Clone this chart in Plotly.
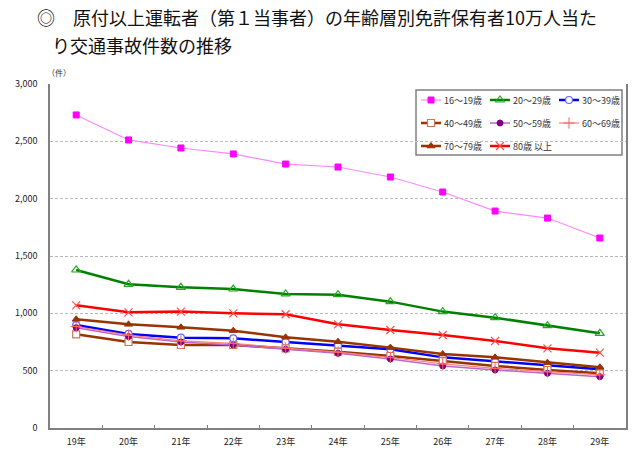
import plotly.graph_objects as go

years = ["19年", "20年", "21年", "22年", "23年", "24年", "25年", "26年", "27年", "28年", "29年"]

age_16_19 = [2730, 2512, 2442, 2390, 2302, 2276, 2189, 2058, 1892, 1831, 1657]
age_20_29 = [1378, 1253, 1227, 1212, 1169, 1163, 1102, 1015, 962, 892, 826]
age_30_39 = [898, 820, 788, 782, 750, 718, 686, 616, 581, 541, 512]
age_40_49 = [817, 750, 724, 724, 695, 666, 628, 584, 541, 506, 477]
age_50_59 = [875, 797, 750, 724, 686, 651, 602, 541, 506, 477, 448]
age_60_69 = [885, 810, 760, 738, 697, 662, 615, 560, 520, 490, 463]
age_70_79 = [948, 904, 878, 849, 791, 753, 701, 645, 616, 570, 529]
age_80_up = [1070, 1009, 1015, 1000, 992, 904, 855, 811, 759, 695, 657]

y_ticks = [0, 500, 1000, 1500, 2000, 2500, 3000]
y_tick_text = ["0", "500", "1,000", "1,500", "2,000", "2,500", "3,000"]

FONT = "Noto Sans CJK JP"

series = [
    ("16～19歳", age_16_19, dict(color="#FF88FF", width=1.2), dict(symbol="square", size=6, color="#FF00FF", line=dict(color="#FF00FF", width=1))),
    ("20～29歳", age_20_29, dict(color="#008000", width=2.5), dict(symbol="triangle-up-open", size=8, color="#22AA22", line=dict(width=1.2))),
    ("30～39歳", age_30_39, dict(color="#0000FF", width=2.5), dict(symbol="circle", size=7, color="white", line=dict(color="#6666FF", width=1.2))),
    ("40～49歳", age_40_49, dict(color="#993300", width=2.5), dict(symbol="square", size=7, color="white", line=dict(color="#CC7755", width=1.2))),
    ("50～59歳", age_50_59, dict(color="#BB66CC", width=1.5), dict(symbol="circle", size=6, color="#800080", line=dict(color="#800080", width=1))),
    ("60～69歳", age_60_69, dict(color="#FF8080", width=1.2), dict(symbol="cross-thin", size=8, color="#FF6060", line=dict(color="#FF6060", width=1))),
    ("70～79歳", age_70_79, dict(color="#993300", width=2.5), dict(symbol="triangle-up", size=7, color="#993300", line=dict(color="#993300", width=1))),
    ("80歳 以上", age_80_up, dict(color="#FF0000", width=2.5), dict(symbol="x-thin", size=8, color="#FF5050", line=dict(color="#FF5050", width=1.2))),
]

# page offset (body margin) and plot area geometry in page pixels
OFF = 8
PAGE_W, PAGE_H = 640, 454
W, H = PAGE_W - OFF, PAGE_H - OFF
PL, PR, PT, PB = 50, 626, 84, 428  # plot area edges in page pixels
L, T = PL - OFF, PT - OFF
R, B = W - (PR - OFF), H - (PB - OFF)
PW, PH = PR - PL, PB - PT


def fx(px):
    return (px - PL) / PW


def fy(py):
    return (PB - py) / PH


fig = go.Figure()
for name, vals, line, marker in series:
    fig.add_trace(go.Scatter(x=years, y=vals, name=name, mode="lines+markers",
                             line=line, marker=marker, showlegend=False))

# manual legend (samples on an overlay axis with fixed 0..1 range)
col_x = [421, 490, 559]
row_y = [100, 123, 146]
annotations = []
for i, (name, vals, line, marker) in enumerate(series):
    r, c = divmod(i, 3)
    x0 = fx(col_x[c])
    x1 = fx(col_x[c] + 20)
    yy = fy(row_y[r])
    fig.add_trace(go.Scatter(x=[x0, x1], y=[yy, yy], mode="lines", line=line,
                             xaxis="x2", yaxis="y2", showlegend=False, hoverinfo="skip"))
    fig.add_trace(go.Scatter(x=[(x0 + x1) / 2], y=[yy], mode="markers", marker=marker,
                             xaxis="x2", yaxis="y2", showlegend=False, hoverinfo="skip"))
    annotations.append(dict(text=name, xref="x2", yref="y2", x=fx(col_x[c] + 21), y=yy,
                            xanchor="left", yanchor="middle", showarrow=False,
                            font=dict(family=FONT, size=9, color="#333333")))

annotations += [
    dict(text="◎　原付以上運転者（第１当事者）の年齢層別免許保有者10万人当た", xref="paper", yref="paper",
         x=fx(35), y=fy(17), xanchor="left", yanchor="middle", showarrow=False,
         font=dict(family=FONT, size=18, color="#111111")),
    dict(text="り交通事故件数の推移", xref="paper", yref="paper",
         x=fx(50), y=fy(45), xanchor="left", yanchor="middle", showarrow=False,
         font=dict(family=FONT, size=18, color="#111111")),
    dict(text="（件）", xref="paper", yref="paper", x=fx(45), y=fy(73), xanchor="left", yanchor="middle",
         showarrow=False, font=dict(family=FONT, size=8, color="#333333")),
]

fig.update_layout(
    width=W, height=H,
    margin=dict(l=L, r=R, t=T, b=B, pad=0),
    paper_bgcolor="white", plot_bgcolor="white",
    showlegend=False,
    xaxis=dict(type="category", showline=True, linecolor="#808080", linewidth=1.5,
               ticks="inside", tickson="boundaries", ticklen=3, tickcolor="#808080",
               showgrid=False, tickfont=dict(family=FONT, size=9, color="#222222"),
               ticklabelstandoff=4,
               range=[-0.5, 10.5], automargin=False),
    yaxis=dict(range=[0, 3000], tickvals=y_ticks, ticktext=y_tick_text,
               showline=True, mirror=True, linecolor="#808080", linewidth=1.5,
               showgrid=True, gridcolor="#BBBBBB", griddash="3px,2px", gridwidth=1,
               zeroline=False, ticks="", automargin=False, ticklabelstandoff=9,
               tickfont=dict(family=FONT, size=9, color="#222222")),
    xaxis2=dict(overlaying="x", range=[0, 1], visible=False, fixedrange=True),
    yaxis2=dict(overlaying="y", range=[0, 1], visible=False, fixedrange=True),
    shapes=[dict(type="rect", xref="paper", yref="paper", x0=fx(416), x1=fx(622), y0=fy(155), y1=fy(90),
                 line=dict(color="#808080", width=1.5), fillcolor="white", layer="between")],
    annotations=annotations,
)

fig.write_html("out.html")
